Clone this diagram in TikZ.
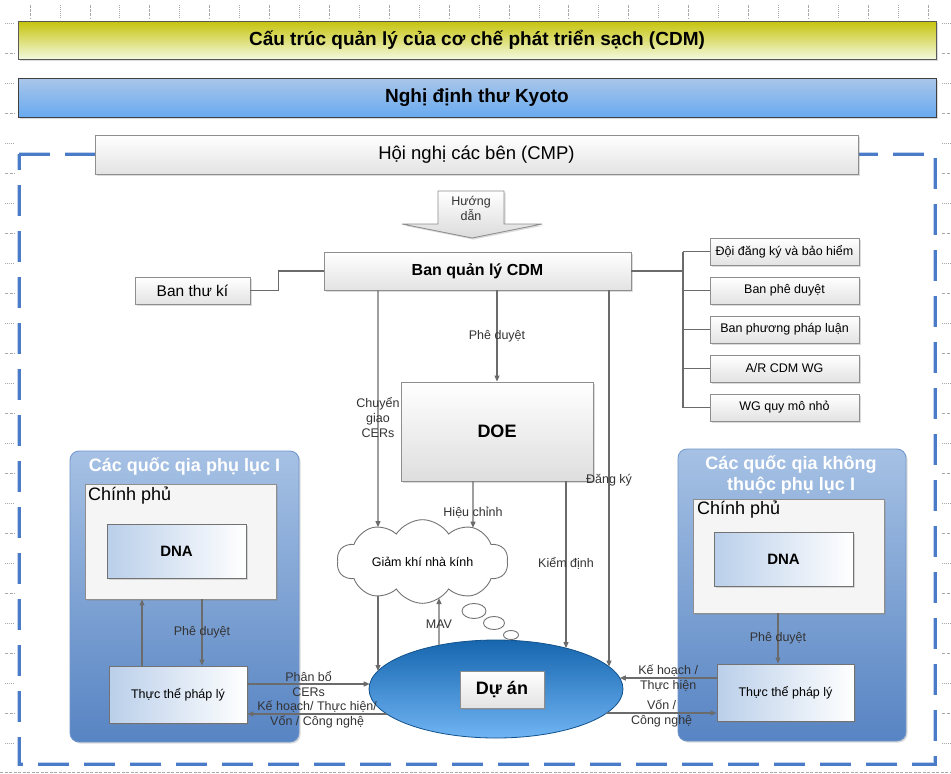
\documentclass[tikz,border=0pt]{standalone}
\usepackage{fontspec}
\setmainfont{Liberation Sans}
\usetikzlibrary{arrows.meta,shapes.geometric,shapes.symbols,shadows,intersections}

\definecolor{lineg}{HTML}{6B6B6B}
\definecolor{labtxt}{HTML}{333333}
\definecolor{boxline}{HTML}{8E8E8E}
\definecolor{frameblue}{HTML}{4A7BC8}
\definecolor{grptop}{HTML}{A6C1E4}
\definecolor{grpbot}{HTML}{5784C3}
\definecolor{paleblue}{HTML}{BACFEA}
\definecolor{olive}{HTML}{C5C30B}
\definecolor{paleolive}{HTML}{F3F9DE}
\definecolor{kyotop}{HTML}{AAC6E9}
\definecolor{kyobot}{HTML}{68AAF0}
\definecolor{projtop}{HTML}{1666AF}
\definecolor{projbot}{HTML}{70B4F3}
\definecolor{marks}{HTML}{A8A8A8}

\newcommand{\fsz}[2]{\fontsize{#1}{#2}\selectfont}

\tikzset{
  softshadow/.style={drop shadow={shadow xshift=1.6pt, shadow yshift=-1.6pt, opacity=0.28}},
  conn/.style={draw=lineg, line width=1.1pt},
  arr/.style={conn, -{Triangle[length=6pt,width=5pt]}},
  lab/.style={font=\fsz{12.5}{15}, text=labtxt, align=center, inner sep=0pt},
  greybox/.style={draw=boxline, line width=0.9pt, top color=white, bottom color=black!11,
    inner sep=0pt, softshadow},
  listbox/.style={greybox, minimum width=149pt, minimum height=27pt, font=\fsz{12.5}{15}},
  bluebox/.style={draw=boxline!80!black, line width=0.9pt, left color=paleblue, right color=white,
    inner sep=0pt, softshadow},
  govbox/.style={draw=boxline, line width=0.9pt, fill=black!4, inner sep=0pt, softshadow},
  group/.style={draw=grpbot!85!white, line width=0.8pt, rounded corners=9pt,
    top color=grptop, bottom color=grpbot, inner sep=0pt, softshadow},
  grptitle/.style={font=\bfseries\fsz{18}{21}, text=white, align=center, inner sep=0pt},
  govtitle/.style={font=\fsz{18}{21}, anchor=north west, inner sep=0pt},
  bubble/.style={ellipse, draw=black!55, line width=0.9pt, fill=white, inner sep=0pt},
}

\begin{document}
\begin{tikzpicture}[x=1pt,y=-1pt]
\useasboundingbox (0,0) rectangle (951,774);
\fill[white] (0,0) rectangle (951,774);

% ---- page guides ----
\foreach \k in {0,...,30} {
  \pgfmathsetmacro\xx{30+29.93*\k}
  \ifodd\k
    \draw[marks, line width=.6pt, dash pattern=on 1pt off 1pt] (\xx,5) -- (\xx,18);
  \else
    \draw[marks, line width=.6pt, dash pattern=on 3pt off 1.2pt] (\xx,5) -- (\xx,18);
  \fi
}
\foreach \k in {0,...,24} {
  \pgfmathsetmacro\yy{23+30*\k}
  \ifodd\k
    \draw[marks, line width=.7pt, dash pattern=on 3pt off 1.5pt] (5,\yy) -- (15,\yy);
    \draw[marks, line width=.7pt, dash pattern=on 3pt off 1.5pt] (942,\yy) -- (951,\yy);
  \else
    \draw[marks, line width=.7pt, dash pattern=on 1pt off 1pt] (5,\yy) -- (15,\yy);
    \draw[marks, line width=.7pt, dash pattern=on 1pt off 1pt] (942,\yy) -- (951,\yy);
  \fi
}
\draw[marks, line width=.8pt, dash pattern=on 3pt off 1.5pt] (0,772) -- (951,772);

% ---- headings ----
\node[draw=black!65, line width=1pt, top color=olive, bottom color=paleolive,
  minimum width=918pt, minimum height=38pt, inner sep=0pt, font=\bfseries\fsz{19}{22}, softshadow]
  (title) at (477,40) {Cấu trúc quản lý của cơ chế phát triển sạch (CDM)};
\node[draw=black!75, line width=1pt, top color=kyotop, bottom color=kyobot,
  minimum width=918pt, minimum height=39pt, inner sep=0pt, font=\bfseries\fsz{19}{22}, softshadow]
  (kyoto) at (477,97.5) {Nghị định thư Kyoto};

% ---- dashed frame ----
\draw[frameblue!35, line width=4.6pt, dash pattern=on 31pt off 15pt]
  (19,154) -- (935,154) -- (935,764) -- (19,764) -- cycle;
\draw[frameblue, line width=3pt, dash pattern=on 31pt off 15pt]
  (19,154) -- (935,154) -- (935,764) -- (19,764) -- cycle;

\node[greybox, minimum width=763pt, minimum height=39pt, font=\fsz{18.5}{22}]
  (cmp) at (476.5,154.5) {Hội nghị các bên (CMP)};

% ---- guidance arrow ----
\draw[draw=black!45, line width=.8pt, top color=white, bottom color=black!14, softshadow]
  (438,191) -- (504,191) -- (504,224) -- (542,224) -- (472,238) -- (402,224) -- (438,224) -- cycle;
\node[lab] (huongdan) at (471,208) {Hướng\\dẫn};

% ---- executive board and panels ----
\node[greybox, minimum width=307pt, minimum height=38pt, font=\bfseries\fsz{16}{19}]
  (bql) at (477.5,271) {Ban quản lý CDM};
\node[greybox, minimum width=115pt, minimum height=27pt, font=\fsz{15.5}{18}]
  (btk) at (192.5,290.5) {Ban thư kí};
\draw[conn] (btk.east) -- ++(28,0) |- (bql.west);

\foreach \t [count=\i from 0] in {Đội đăng ký và bảo hiểm, Ban phê duyệt, Ban phương pháp luận, A/R CDM WG, WG quy mô nhỏ}
  \node[listbox] (sub\i) at (784.5,{251.5+39*\i}) {\t};
\coordinate (busx) at (683,0);
\draw[conn] (bql.east) -- (bql.east -| busx);
\draw[conn] (sub0.west -| busx) -- (sub4.west -| busx);
\foreach \i in {0,...,4} \draw[conn] (sub\i.west -| busx) -- (sub\i.west);

\node[draw=boxline, line width=.9pt, top color=white, bottom color=black!13,
  minimum width=192pt, minimum height=99pt, inner sep=0pt, font=\bfseries\fsz{18}{21}, softshadow]
  (doe) at (497,431.5) {DOE};

% ---- Annex I countries ----
\node[group, minimum width=229pt, minimum height=291pt] (g1) at (184.5,596.5) {};
\node[grptitle] (g1t) at (184.5,466) {Các quốc qia phụ lục I};
\node[govbox, minimum width=191pt, minimum height=115pt] (cp1) at (180.5,541.5) {};
\node[govtitle] (cp1t) at (88,487) {Chính phủ};
\node[bluebox, minimum width=139pt, minimum height=54pt, font=\bfseries\fsz{15}{18}] (dna1) at (176.5,551) {DNA};
\node[bluebox, minimum width=138pt, minimum height=57pt, font=\fsz{12.5}{15}] (tt1) at (178,694.5) {Thực thể pháp lý};

% ---- non-Annex I countries ----
\node[group, minimum width=228pt, minimum height=292pt] (g2) at (792,595) {};
\node[grptitle] (g2t) at (791,474.5) {Các quốc qia không\\thuộc phụ lục I};
\node[govbox, minimum width=191pt, minimum height=114pt] (cp2) at (788.5,556) {};
\node[govtitle] (cp2t) at (697,501) {Chính phủ};
\node[bluebox, minimum width=139pt, minimum height=54pt, font=\bfseries\fsz{15}{18}] (dna2) at (783.5,559) {DNA};
\node[bluebox, minimum width=137pt, minimum height=57pt, font=\fsz{12.5}{15}] (tt2) at (785.5,692.5) {Thực thể pháp lý};

% ---- project ----
\node[ellipse, draw=projtop!80!black, line width=.8pt, top color=projtop, bottom color=projbot,
  minimum width=254pt, minimum height=98pt, inner sep=0pt] (duan) at (496,689) {};
\node[greybox, minimum width=84pt, minimum height=37pt, font=\bfseries\fsz{18}{21}]
  (duanlbl) at (502,689.5) {Dự án};

% guide lines for the connectors
\coordinate (vCER) at (378,0);
\coordinate (vPD)  at (497,0);
\coordinate (vDK)  at (609,0);
\coordinate (vKD)  at (566,0);
\coordinate (vHC)  at (473,0);
\coordinate (vMAV) at (439,0);
\coordinate (vUp)  at (142,0);
\coordinate (vDn)  at (202,0);
\coordinate (vDn2) at (778,0);
% points on the project ellipse
\coordinate (cldB) at (378,580);
\coordinate (prA) at (378,671);
\coordinate (prB) at (609,666.6);
\coordinate (prC) at (566,648.1);
\coordinate (prD) at (439,645.2);
\coordinate (prE) at (369.7,684);
\coordinate (prF) at (386.8,714);
\coordinate (prG) at (619.8,678);
\coordinate (prH) at (606.7,713);

% ---- connectors ----
\draw[arr] (bql.south -| vPD) -- node[lab, pos=.5] {Phê duyệt} (doe.north -| vPD);
\draw[arr] (cldB) -- (prA);
\draw[arr] (bql.south -| vDK) -- node[lab, pos=.505] {Đăng ký} (prB);
\draw[arr] (doe.south -| vKD) -- node[lab, pos=.49] {Kiểm định} (prC);

\draw[arr] (tt1.north -| vUp) -- (cp1.south -| vUp);
\draw[arr] (cp1.south -| vDn) -- node[lab, pos=.5] {Phê duyệt} (tt1.north -| vDn);
\draw[arr] (tt1.east |- prE) -- node[lab, pos=.5] {Phân bổ\\CERs} (prE);
\draw[arr] (prF) -- node[lab, pos=.5] {Kế hoạch/ Thực hiện/\\Vốn / Công nghệ} (tt1.east |- prF);

\draw[arr] (cp2.south -| vDn2) -- node[lab, pos=.5] {Phê duyệt} (tt2.north -| vDn2);
\draw[arr] (tt2.west |- prG) -- node[lab, pos=.5] {Kế hoạch /\\Thực hiện} (prG);
\draw[arr] (prH) -- node[lab, pos=.5] {Vốn /\\Công nghệ} (tt2.west |- prH);

% ---- greenhouse-gas cloud ----
\node[cloud, name path=cloudp, cloud puffs=10, cloud puff arc=115, aspect=2.3, draw=black!55,
  line width=.9pt, fill=white, minimum width=171pt, minimum height=77pt, inner sep=0pt,
  font=\fsz{12.5}{15}] (gk) at (422.5,561.5) {Giảm khí nhà kính};
\node[bubble, minimum width=24pt, minimum height=15pt] (bub1) at (474,611) {};
\node[bubble, minimum width=21pt, minimum height=13pt] (bub2) at (494,623) {};
\node[bubble, minimum width=15pt, minimum height=9pt] (bub3) at (511,635) {};

% arrows that end on the cloud outline
\path[name path=lnCER] (bql.south -| vCER) -- (prA);
\path[name path=lnHC] (doe.south -| vHC) -- (vHC |- duan.south);
\path[name path=lnMAV] (prD) -- (vMAV |- doe.south);
\path[name intersections={of=cloudp and lnCER, sort by=lnCER, name=iCER}];
\path[name intersections={of=cloudp and lnHC, sort by=lnHC, name=iHC}];
\path[name intersections={of=cloudp and lnMAV, sort by=lnMAV, name=iMAV}];
\draw[arr] (bql.south -| vCER) -- node[lab, pos=.535] {Chuyển\\giao\\CERs} (iCER-1);
\draw[arr] (doe.south -| vHC) -- node[lab, pos=.68] {Hiệu chỉnh} (iHC-1);
\draw[arr] (prD) -- node[lab, pos=.45] {MAV} (iMAV-1);
\end{tikzpicture}
\end{document}
